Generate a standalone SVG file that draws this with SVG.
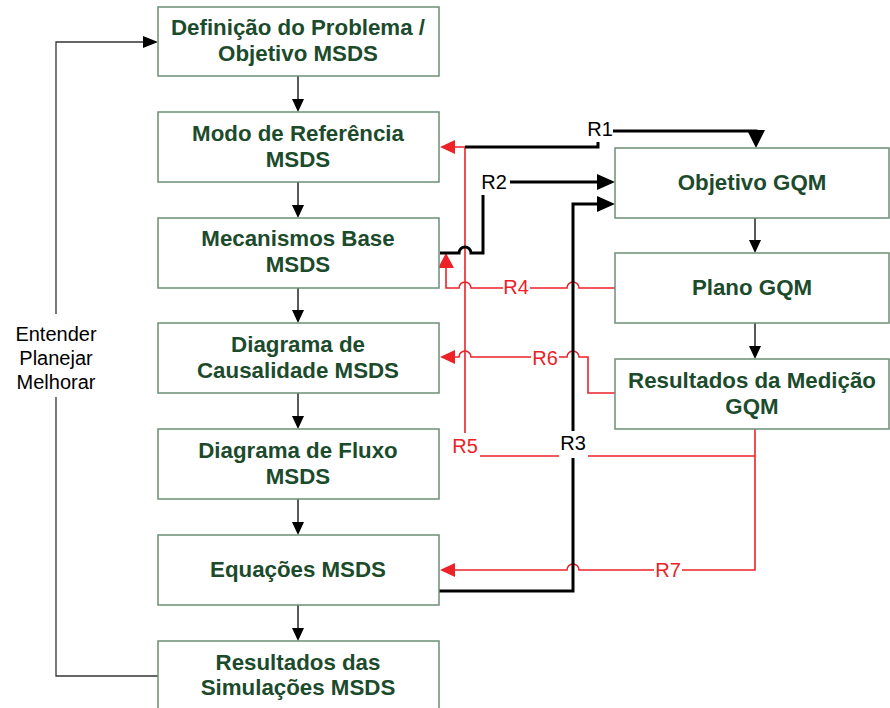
<svg xmlns="http://www.w3.org/2000/svg" width="890" height="708" viewBox="0 0 890 708">
<style>
  .box { fill: #ffffff; stroke: #6e8e77; stroke-width: 1.5; }
  .bt { font-family: "Liberation Sans", Arial, sans-serif; font-size: 22.3px; font-weight: bold; fill: #1c4b2c; text-anchor: middle; }
  .flow { fill: none; stroke: #000000; stroke-width: 1.3; }
  .fb { fill: none; stroke: #333333; stroke-width: 1.3; }
  .thick { fill: none; stroke: #000000; stroke-width: 3; }
  .red { fill: none; stroke: #ec2228; stroke-width: 1.6; }
  .ah { fill: #000000; }
  .rah { fill: #ec2228; }
  .lbl { font-family: "Liberation Sans", Arial, sans-serif; font-size: 20px; text-anchor: middle; }
  .lk { fill: #000000; }
  .lr { fill: #ec2228; }
  .bg { fill: #ffffff; }
</style>

<g id="connectors">
  <!-- flow between left boxes -->
  <line class="flow" x1="298" y1="76" x2="298" y2="100"/>
  <polygon class="ah" points="292,99 304,99 298,112"/>
  <line class="flow" x1="298" y1="182" x2="298" y2="206"/>
  <polygon class="ah" points="292,205 304,205 298,218"/>
  <line class="flow" x1="298" y1="288" x2="298" y2="311"/>
  <polygon class="ah" points="292,310 304,310 298,323"/>
  <line class="flow" x1="298" y1="393" x2="298" y2="417"/>
  <polygon class="ah" points="292,416 304,416 298,429"/>
  <line class="flow" x1="298" y1="499" x2="298" y2="523"/>
  <polygon class="ah" points="292,522 304,522 298,535"/>
  <line class="flow" x1="298" y1="605" x2="298" y2="629"/>
  <polygon class="ah" points="292,628 304,628 298,641"/>
  <!-- flow between right boxes -->
  <line class="flow" x1="755" y1="218" x2="755" y2="241"/>
  <polygon class="ah" points="749,240 761,240 755,253"/>
  <line class="flow" x1="755" y1="323" x2="755" y2="347"/>
  <polygon class="ah" points="749,346 761,346 755,359"/>
  <!-- feedback loop -->
  <path class="fb" d="M158,676 H56 V42 H144"/>
  <polygon class="ah" points="143,36 158,42 143,48"/>

  <!-- R5 (red) -->
  <path class="red" d="M465,433 V147 H454"/>
  <polygon class="rah" points="455,140 455,154 440,147"/>
  <path class="red" d="M480,456 H755"/>
  <!-- R7 (red) -->
  <path class="red" d="M755,429 V570 H579 A6,6 0 0 0 567,570 H454"/>
  <polygon class="rah" points="455,563 455,577 440,570"/>
  <!-- R4 (red) -->
  <path class="red" d="M622,288 H579 A6,6 0 0 0 567,288 H471 A6,6 0 0 0 459,288 H446 V267"/>
  <polygon class="rah" points="438,268 454,268 446,253"/>
  <!-- R6 (red) -->
  <path class="red" d="M615,393 H588 V357 H579 A6,6 0 0 0 567,357 H471 A6,6 0 0 0 459,357 H454"/>
  <polygon class="rah" points="455,350 455,364 440,357"/>

  <!-- R1 (black) -->
  <path class="thick" d="M465,147 H598 V142"/>
  <path class="thick" d="M613,131 H756 V133"/>
  <polygon class="ah" points="747,130 765,130 756,148"/>
  <!-- R2 (black) -->
  <path class="thick" d="M440,253 H459 A6,6 0 0 1 471,253 H483 V195"/>
  <path class="thick" d="M510,182 H598"/>
  <polygon class="ah" points="597,174 597,190 615,182"/>
  <!-- R3 (black) -->
  <path class="thick" d="M439,591 H573 V204 H598"/>
  <polygon class="ah" points="597,196 597,212 615,204"/>

  <!-- connector labels -->
  <text class="lbl lk" x="600" y="136">R1</text>
  <text class="lbl lk" x="494" y="189">R2</text>
  <rect class="bg" x="559" y="431" width="29" height="27"/>
  <text class="lbl lk" x="573" y="450">R3</text>
  <rect class="bg" x="503" y="278" width="27" height="20"/>
  <text class="lbl lr" x="516" y="294">R4</text>
  <text class="lbl lr" x="465" y="453">R5</text>
  <rect class="bg" x="531" y="347" width="28" height="20"/>
  <text class="lbl lr" x="545" y="365">R6</text>
  <rect class="bg" x="654" y="560" width="28" height="20"/>
  <text class="lbl lr" x="668" y="577">R7</text>

  <rect class="bg" x="12" y="314" width="88" height="83"/>
  <text class="lbl lk" x="56" y="341">Entender</text>
  <text class="lbl lk" x="56" y="365">Planejar</text>
  <text class="lbl lk" x="56" y="389">Melhorar</text>
</g>

<g id="definicao">
  <rect class="box" x="158" y="7" width="281" height="69"/>
  <text class="bt" x="298" y="35">Definição do Problema /</text>
  <text class="bt" x="298" y="61">Objetivo MSDS</text>
</g>
<g id="modo-referencia">
  <rect class="box" x="158" y="112" width="281" height="70"/>
  <text class="bt" x="298" y="141">Modo de Referência</text>
  <text class="bt" x="298" y="167">MSDS</text>
</g>
<g id="mecanismos-base">
  <rect class="box" x="158" y="218" width="281" height="70"/>
  <text class="bt" x="298" y="246">Mecanismos Base</text>
  <text class="bt" x="298" y="272">MSDS</text>
</g>
<g id="diagrama-causalidade">
  <rect class="box" x="158" y="323" width="281" height="70"/>
  <text class="bt" x="298" y="352">Diagrama de</text>
  <text class="bt" x="298" y="378">Causalidade MSDS</text>
</g>
<g id="diagrama-fluxo">
  <rect class="box" x="158" y="429" width="281" height="70"/>
  <text class="bt" x="298" y="458">Diagrama de Fluxo</text>
  <text class="bt" x="298" y="484">MSDS</text>
</g>
<g id="equacoes">
  <rect class="box" x="158" y="535" width="281" height="70"/>
  <text class="bt" x="298" y="577">Equações MSDS</text>
</g>
<g id="resultados-simulacoes">
  <rect class="box" x="158" y="641" width="281" height="72"/>
  <text class="bt" x="298" y="670">Resultados das</text>
  <text class="bt" x="298" y="695">Simulações MSDS</text>
</g>
<g id="objetivo-gqm">
  <rect class="box" x="615" y="148" width="274" height="70"/>
  <text class="bt" x="752" y="190">Objetivo GQM</text>
</g>
<g id="plano-gqm">
  <rect class="box" x="615" y="253" width="274" height="70"/>
  <text class="bt" x="752" y="295">Plano GQM</text>
</g>
<g id="resultados-medicao">
  <rect class="box" x="615" y="359" width="274" height="70"/>
  <text class="bt" x="752" y="388">Resultados da Medição</text>
  <text class="bt" x="752" y="414">GQM</text>
</g>
</svg>
